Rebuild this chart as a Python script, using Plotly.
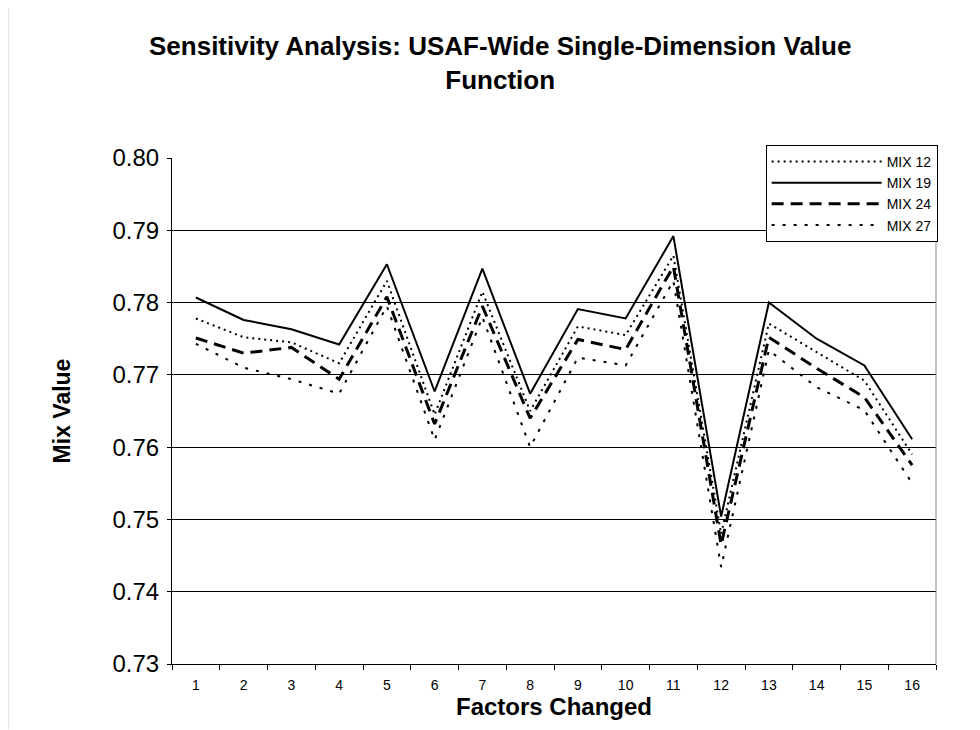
import plotly.graph_objects as go

factors = [str(i) for i in range(1, 17)]
mix12 = [0.7778, 0.7752, 0.7745, 0.7716, 0.7830, 0.7645, 0.7815, 0.7650,
         0.7767, 0.7755, 0.7865, 0.7480, 0.7771, 0.7731, 0.7692, 0.7590]
mix19 = [0.7807, 0.7776, 0.7763, 0.7742, 0.7853, 0.7677, 0.7847, 0.7674,
         0.7791, 0.7778, 0.7892, 0.7504, 0.7800, 0.7750, 0.7713, 0.7611]
mix24 = [0.7751, 0.7730, 0.7738, 0.7694, 0.7808, 0.7632, 0.7795, 0.7640,
         0.7749, 0.7735, 0.7850, 0.7465, 0.7752, 0.7709, 0.7669, 0.7575]
mix27 = [0.7743, 0.7710, 0.7694, 0.7674, 0.7795, 0.7610, 0.7780, 0.7600,
         0.7724, 0.7713, 0.7830, 0.7434, 0.7734, 0.7683, 0.7651, 0.7550]

series = [
    ("MIX 12", mix12, dict(color="black", width=2, dash="2px,4px")),
    ("MIX 19", mix19, dict(color="black", width=2, dash="solid")),
    ("MIX 24", mix24, dict(color="black", width=3, dash="12px,7px")),
    ("MIX 27", mix27, dict(color="black", width=2, dash="3px,8px")),
]

fig = go.Figure()
for name, vals, line in series:
    fig.add_trace(go.Scatter(x=factors, y=vals, mode="lines", name=name, line=line))

fig.update_layout(
    width=972, height=722,
    paper_bgcolor="white", plot_bgcolor="white",
    margin=dict(l=164, r=44, t=150, b=66, autoexpand=False),
    font=dict(family="Liberation Sans, Arial, sans-serif", color="black"),
    showlegend=True,
    legend=dict(
        x=0.777, y=1.026, xanchor="left", yanchor="top",
        bgcolor="white", bordercolor="black", borderwidth=1,
        font=dict(size=14), itemwidth=110, tracegroupgap=2,
    ),
    xaxis=dict(
        type="category", range=[-0.5, 15.5], automargin=False,
        showgrid=False, showline=True, linecolor="black", linewidth=1,
        ticks="outside", tickson="boundaries", ticklen=5, tickcolor="black",
        tickfont=dict(size=14), mirror=False, ticklabelstandoff=8,
        title=dict(text="<b>Factors Changed</b>", font=dict(size=24), standoff=2),
    ),
    yaxis=dict(
        range=[0.73, 0.80], dtick=0.01, tickformat=".2f", automargin=False,
        showgrid=True, gridcolor="black", gridwidth=1,
        showline=True, linecolor="black", linewidth=1,
        ticks="outside", ticklen=4, tickcolor="black",
        tickfont=dict(size=24), ticklabelstandoff=3,
        title=dict(text="<b>Mix Value</b>", font=dict(size=23), standoff=35),
        zeroline=False,
    ),
    annotations=[
        dict(text="<b>Sensitivity Analysis: USAF-Wide Single-Dimension Value<br>Function</b>",
             xref="paper", yref="paper", x=0.429, y=1.254, xanchor="center", yanchor="top",
             showarrow=False, font=dict(size=26), align="center"),
    ],
    shapes=[
        dict(type="line", xref="paper", yref="paper", x0=1, x1=1, y0=0, y1=1,
             line=dict(color="#888888", width=1)),
        dict(type="line", xref="paper", yref="paper", x0=-0.215, x1=-0.215, y0=-0.13, y1=1.3,
             line=dict(color="#999999", width=1)),
    ],
)

fig.write_html("out.html")
